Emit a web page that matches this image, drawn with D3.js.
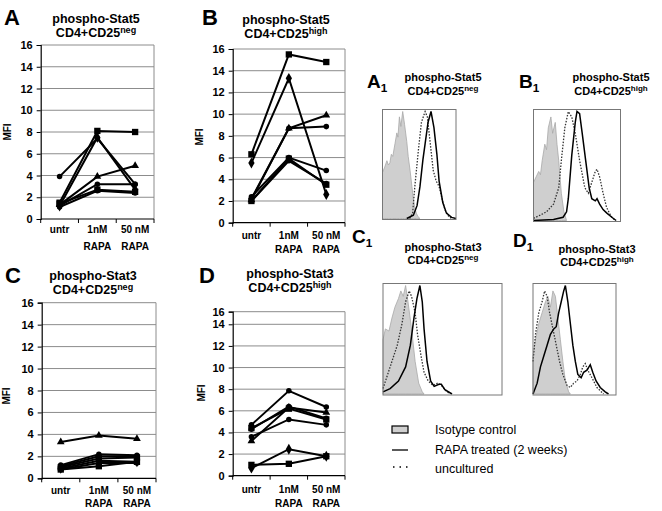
<!DOCTYPE html>
<html><head><meta charset="utf-8">
<script src="https://cdn.jsdelivr.net/npm/d3@7"></script>
<style>body{margin:0;background:#fff}svg{display:block}text{font-family:"Liberation Sans",Arial,sans-serif}</style>
</head><body><svg id="c" width="662" height="511"></svg>
<script>
// ---------- DATA ----------
const categories = ["untr", "1nM RAPA", "50 nM RAPA"];
const yTicks = [0, 2, 4, 6, 8, 10, 12, 14, 16];
const markers = ["square", "circle", "triangle", "circle", "diamond", "circle", "square"];
// MFI values per donor [untr, 1nM, 50nM]
const stat5Neg = [[1.5, 8.1, 8.0], [3.9, 7.4, 3.2], [1.3, 3.9, 4.9], [1.2, 3.2, 3.2], [1.2, 7.5, 2.7], [1.1, 2.6, 2.4], [1.4, 2.7, 2.5]];
const stat5High = [[6.3, 15.5, 14.8], [2.4, 6.0, 4.8], [2.1, 8.7, 9.9], [2.2, 8.7, 8.85], [5.5, 13.3, 2.6], [2.0, 5.7, 3.6], [2.0, 5.9, 3.5]];
const stat3Neg = [[0.8, 1.1, 1.5], [1.2, 2.2, 2.1], [3.3, 3.9, 3.6], [1.1, 2.0, 2.0], [0.9, 1.6, 1.5], [0.8, 1.4, 1.4], [1.0, 1.8, 1.9]];
const stat3High = [[1.0, 1.1, 1.8], [4.3, 6.4, 5.3], [3.2, 6.3, 5.85], [3.6, 5.2, 4.7], [0.7, 2.45, 1.8], [4.7, 7.85, 6.35], [4.4, 6.2, 5.2]];
// Histogram curves: [channel (0-100), % of max]
const a1Iso = [[0,43],[3,48],[6,54],[8,50],[10,52],[12,60],[14,58],[17,70],[19.5,80],[21,76],[23,95],[25,86],[27.5,100],[30,88],[33,72],[35,58],[37.5,45],[40,30],[42,18],[44,10],[46,5],[48,2],[51,0]];
const a1Unc = [[37,0],[41,5],[44,30],[49,65],[53,90],[58,100],[61,95],[65,70],[69,45],[73,35],[77,30],[80.5,20],[85,8],[90,2],[94,0]];
const a1Rapa = [[33,0],[42,3],[47,12],[51,30],[55,55],[58,70],[62,90],[66,100],[70,85],[74,60],[77,35],[82,15],[87,5],[94,1],[100,0]];
const b1Iso = [[0,35],[3,40],[6,45],[8,42],[10,55],[13,70],[15,65],[17,85],[20,95],[22,80],[25,90],[27,70],[29,55],[32,25],[35,8],[38,0]];
const b1Unc = [[0,2],[8,5],[15,8],[23,15],[29,30],[32,55],[36,85],[40,100],[44,95],[48,80],[53,55],[59,30],[63,25],[67,35],[71,45],[73,47],[76,40],[80,25],[84,12],[89,4],[94,0]];
const b1Rapa = [[0,0],[23,1],[34,3],[38,8],[40,20],[44,60],[48,90],[50,100],[53,98],[56,80],[60,55],[64,30],[67,20],[71,18],[73,20],[76,15],[80,10],[84,7],[90,3],[95,0]];
const c1Iso = [[0,50],[2,60],[5,58],[7.5,70],[10,80],[13,88],[15,95],[17,90],[19,100],[21,85],[24,60],[27,30],[30,10],[33,2],[34.5,0]];
const c1Unc = [[0,5],[3,15],[7.5,30],[12,45],[16,65],[19,85],[22,95],[24,90],[27,75],[29,55],[32,35],[34.5,20],[38,12],[42,8],[46,10],[49,8],[53,3],[56,0]];
const c1Rapa = [[0,2],[6,5],[13,12],[19,25],[23,45],[26,70],[28.5,88],[31,100],[33,85],[34.5,60],[37,30],[40,12],[43,7],[47,9],[49,9],[52,4],[58,0]];
const d1Iso = [[0,35],[3,50],[7,65],[11,75],[15,85],[18,90],[21,80],[24,95],[27,90],[30,70],[33,50],[36,30],[39,12],[43,2],[45,0]];
const d1Unc = [[0,30],[3,55],[7,75],[11,85],[14,95],[17,90],[20,75],[24,60],[28,45],[32,30],[36,18],[41,8],[45,6],[49,10],[53,12],[57,18],[60,25],[63,28],[66,22],[71,15],[77,6],[85,0]];
const d1Rapa = [[0,0],[5,10],[9,25],[13,35],[17,45],[21,55],[25,60],[28,62],[31,75],[34,85],[37,95],[39,100],[42,85],[45,65],[48,45],[51,30],[54,18],[58,15],[61,20],[65,22],[69,27],[72,20],[76,12],[81,6],[87,2],[91,0]];
const legendLabels = ["Isotype control", "RAPA treated (2 weeks)", "uncultured"];

// ---------- DRAW ----------
const svg = d3.select("#c");
const F = '"Liberation Sans", Arial, sans-serif';

function title(x, y1, y2, l1, base, sup, size, supSize) {
  svg.append("text").attr("x", x).attr("y", y1).attr("text-anchor", "middle")
    .attr("font-size", size).attr("font-weight", "bold").text(l1);
  const t = svg.append("text").attr("x", x).attr("y", y2).attr("text-anchor", "middle")
    .attr("font-size", size).attr("font-weight", "bold");
  t.append("tspan").text(base);
  t.append("tspan").attr("dy", -4).attr("font-size", supSize).text(sup);
}
function letter(x, y, L, size, sub) {
  const t = svg.append("text").attr("x", x).attr("y", y).attr("font-size", size).attr("font-weight", "bold");
  t.append("tspan").text(L);
  if (sub) t.append("tspan").attr("dy", 4).attr("font-size", size * 0.62).text(sub);
}

const symbolOf = {square: d3.symbolSquare, circle: d3.symbolCircle, triangle: d3.symbolTriangle, diamond: d3.symbolDiamond};
const sizeOf = {square: 40, circle: 24, triangle: 26, diamond: 34};

function linePanel(p) {
  const x = d3.scaleBand().domain(categories).range([p.x0, p.x1]);
  const y = d3.scaleLinear().domain(p.yDom).range(p.yRng);
  const g = svg.append("g");
  // gridlines
  g.selectAll(".grid").data(yTicks.filter(d => d > 0)).join("line")
    .attr("x1", p.x0).attr("x2", p.x1).attr("y1", d => y(d)).attr("y2", d => y(d))
    .attr("stroke", "#8c8c8c").attr("stroke-width", 1);
  // right border
  g.append("line").attr("x1", p.x1).attr("x2", p.x1).attr("y1", y(16)).attr("y2", y(0))
    .attr("stroke", "#8c8c8c");
  // y axis
  const ya = g.append("g").attr("transform", `translate(${p.x0},0)`)
    .call(d3.axisLeft(y).tickValues(yTicks).tickSize(4).tickPadding(4).tickFormat(d3.format("d")));
  ya.select(".domain").attr("stroke", "#000").attr("stroke-width", 1.2);
  ya.selectAll("text").attr("font-size", 11).attr("font-weight", "bold").attr("font-family", F);
  // x axis
  const xa = g.append("g").attr("transform", `translate(0,${y(0)})`);
  xa.append("line").attr("x1", p.x0).attr("x2", p.x1).attr("stroke", "#000").attr("stroke-width", 1.2);
  const edges = [p.x0].concat(categories.map(c => x(c) + x.bandwidth()));
  xa.selectAll(".tk").data(edges).join("line").attr("x1", d => d).attr("x2", d => d)
    .attr("y1", 0).attr("y2", 4).attr("stroke", "#000");
  categories.forEach(c => {
    const parts = c === "untr" ? ["untr"] : [c.replace(" RAPA", ""), "RAPA"];
    parts.forEach((s, i) => {
      g.append("text").attr("x", x(c) + x.bandwidth() / 2).attr("y", i === 0 ? p.lb1 : p.lb2)
        .attr("text-anchor", "middle").attr("font-size", 10).attr("font-weight", "bold").text(s);
    });
  });
  // MFI label
  svg.append("text").attr("transform", `translate(${p.mx},${p.my}) rotate(-90)`)
    .attr("text-anchor", "middle").attr("font-size", 10).attr("font-weight", "bold").text("MFI");
  // series
  const line = d3.line().x((d, i) => x(categories[i]) + x.bandwidth() / 2).y(d => y(d));
  p.data.forEach((s, k) => {
    g.append("path").attr("d", line(s)).attr("fill", "none").attr("stroke", "#000").attr("stroke-width", 2);
    const m = markers[k];
    g.selectAll(null).data(s).join("path")
      .attr("transform", (d, i) => `translate(${x(categories[i]) + x.bandwidth() / 2},${y(d)})`)
      .attr("d", d3.symbol(symbolOf[m], sizeOf[m])).attr("fill", "#000");
  });
}

linePanel({x0: 40.7, x1: 154, yDom: [0, 16], yRng: [219, 45], data: stat5Neg, lb1: 233, lb2: 250, mx: 11, my: 132});
linePanel({x0: 232.7, x1: 345, yDom: [0, 16], yRng: [222.7, 49], data: stat5High, lb1: 239, lb2: 253, mx: 203, my: 137});
linePanel({x0: 41.7, x1: 156, yDom: [0, 16], yRng: [478.3, 302.7], data: stat3Neg, lb1: 494, lb2: 507, mx: 10, my: 396});
linePanel({x0: 232.7, x1: 345, yDom: [0, 14, 16], yRng: [475.7, 324.3, 311.7], data: stat3High, lb1: 493, lb2: 507, mx: 205, my: 393});

letter(4, 25, "A", 22); title(96, 23, 37, "phospho-Stat5", "CD4+CD25", "neg", 12.5, 9);
letter(202, 25, "B", 22); title(286, 24, 38, "phospho-Stat5", "CD4+CD25", "high", 12.5, 9);
letter(5, 283, "C", 22); title(93, 280, 294, "phospho-Stat3", "CD4+CD25", "neg", 12.5, 9);
letter(199, 283, "D", 22); title(290, 278, 292, "phospho-Stat3", "CD4+CD25", "high", 12.5, 9);

// ---------- HISTOGRAMS ----------
function histPanel(h) {
  const x = d3.scaleLinear().domain([0, 100]).range([h.x0, h.x1]);
  const y = d3.scaleLinear().domain([0, 100]).range([h.y1 - 1, h.y0 + 2]);
  const g = svg.append("g");
  const area = d3.area().x(d => x(d[0])).y0(y(0)).y1(d => y(d[1]));
  const ln = d3.line().x(d => x(d[0])).y(d => y(d[1]));
  g.append("path").attr("d", area(h.iso)).attr("fill", "#cfcfcf").attr("stroke", "#a8a8a8").attr("stroke-width", 0.8);
  g.append("path").attr("d", ln(h.unc)).attr("fill", "none").attr("stroke", "#333").attr("stroke-width", 1.3).attr("stroke-dasharray", "1.5,1.5");
  g.append("path").attr("d", ln(h.rapa)).attr("fill", "none").attr("stroke", "#000").attr("stroke-width", 1.5);
  g.append("rect").attr("x", h.x0).attr("y", h.y0).attr("width", h.x1 - h.x0).attr("height", h.y1 - h.y0)
    .attr("fill", "none").attr("stroke", "#777").attr("stroke-width", 1);
}
histPanel({x0: 382.5, x1: 456, y0: 109.5, y1: 219.5, iso: a1Iso, unc: a1Unc, rapa: a1Rapa});
histPanel({x0: 533.5, x1: 620.5, y0: 109.5, y1: 221.5, iso: b1Iso, unc: b1Unc, rapa: b1Rapa});
histPanel({x0: 383, x1: 502, y0: 283.5, y1: 395, iso: c1Iso, unc: c1Unc, rapa: c1Rapa});
histPanel({x0: 533, x1: 616, y0: 283.5, y1: 395, iso: d1Iso, unc: d1Unc, rapa: d1Rapa});

letter(367, 88, "A", 19, "1"); title(443, 81, 95, "phospho-Stat5", "CD4+CD25", "neg", 11, 8);
letter(519, 88, "B", 19, "1"); title(611, 81, 95, "phospho-Stat5", "CD4+CD25", "high", 11, 8);
letter(352, 243, "C", 19, "1"); title(443, 251, 264, "phospho-Stat3", "CD4+CD25", "neg", 11, 8);
letter(513, 247, "D", 19, "1"); title(597, 253, 266, "phospho-Stat3", "CD4+CD25", "high", 11, 8);

// ---------- LEGEND ----------
const lg = svg.append("g");
const ly = [430, 450, 469];
lg.append("rect").attr("x", 392).attr("y", ly[0] - 4).attr("width", 16).attr("height", 7)
  .attr("fill", "#cfcfcf").attr("stroke", "#000").attr("stroke-width", 1.2);
lg.append("line").attr("x1", 392).attr("x2", 408).attr("y1", ly[1]).attr("y2", ly[1]).attr("stroke", "#000").attr("stroke-width", 1.3);
lg.append("line").attr("x1", 393).attr("x2", 408).attr("y1", ly[2] - 2).attr("y2", ly[2] - 2).attr("stroke", "#000").attr("stroke-width", 1.5).attr("stroke-dasharray", "1.5,5");
lg.selectAll(".lt").data(legendLabels).join("text").attr("x", 435).attr("y", (d, i) => ly[i] + 4)
  .attr("font-size", 12.5).text(d => d);
</script></body></html>
